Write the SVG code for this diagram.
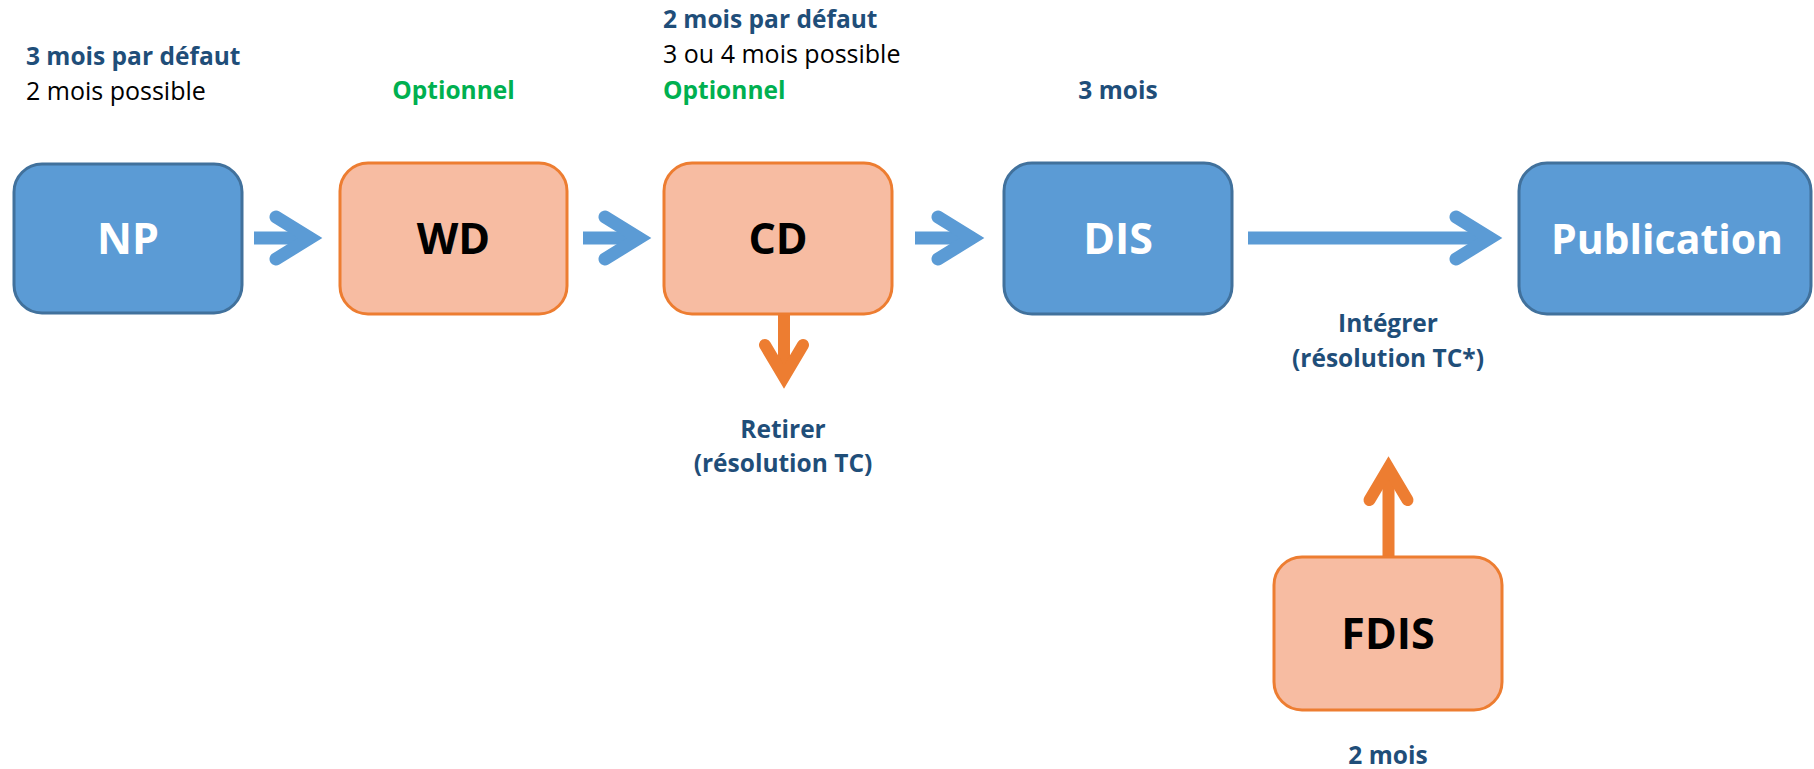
<svg xmlns="http://www.w3.org/2000/svg" width="1814" height="769" viewBox="0 0 1814 769">
<style>
.blue{fill:#5B9BD5;stroke:#41719C;stroke-width:3}
.org{fill:#F7BCA2;stroke:#ED7D31;stroke-width:3}
.nt{font-family:"Open Sans","Noto Sans",sans-serif;font-weight:bold;font-size:43px;text-anchor:middle}
.w{fill:#FFFFFF}
.k{fill:#000000}
.lb{font-family:"Open Sans","Noto Sans",sans-serif;font-weight:bold;font-size:24.5px;fill:#1F4E79}
.lr{font-family:"Open Sans","Noto Sans",sans-serif;font-size:25px;fill:#000000}
.lg{font-family:"Open Sans","Noto Sans",sans-serif;font-weight:bold;font-size:24.5px;fill:#00B050}
.mid{text-anchor:middle}
.sb{stroke:#5B9BD5;stroke-width:13;fill:none}
.so{stroke:#ED7D31;stroke-width:12;fill:none}
.chev{stroke-linecap:round;stroke-linejoin:miter;stroke-miterlimit:6}
</style>
<rect width="1814" height="769" fill="#FFFFFF"/>
<g id="connectors">
<line class="sb" x1="254" y1="238" x2="311" y2="238"/>
<polyline class="sb chev" points="276,217 310,238 276,259"/>
<line class="sb" x1="583" y1="238" x2="640" y2="238"/>
<polyline class="sb chev" points="605,217 639,238 605,259"/>
<line class="sb" x1="915" y1="238" x2="973" y2="238"/>
<polyline class="sb chev" points="938,217 972,238 938,259"/>
<line class="sb" x1="1248" y1="238" x2="1491" y2="238"/>
<polyline class="sb chev" points="1456,217 1490,238 1456,259"/>
<line class="so" x1="784" y1="314" x2="784" y2="377"/>
<polyline class="so chev" points="765,345 784,377 803,345"/>
<line class="so" x1="1388.5" y1="558" x2="1388.5" y2="468"/>
<polyline class="so chev" points="1369.5,500 1388.5,468 1407.5,500"/>
</g>
<g id="node-np">
<rect class="blue" x="14" y="164" width="228" height="149" rx="28"/>
<text class="nt w" x="128" y="254">NP</text>
</g>
<g id="node-wd">
<rect class="org" x="340" y="163" width="227" height="151" rx="28"/>
<text class="nt k" x="453.5" y="254">WD</text>
</g>
<g id="node-cd">
<rect class="org" x="664" y="163" width="228" height="151" rx="28"/>
<text class="nt k" x="778" y="254">CD</text>
</g>
<g id="node-dis">
<rect class="blue" x="1004" y="163" width="228" height="151" rx="28"/>
<text class="nt w" x="1118" y="254">DIS</text>
</g>
<g id="node-publication">
<rect class="blue" x="1519" y="163" width="292" height="151" rx="28"/>
<text class="nt w" x="1667" y="254" style="font-size:41px">Publication</text>
</g>
<g id="node-fdis">
<rect class="org" x="1274" y="557" width="228" height="153" rx="28"/>
<text class="nt k" x="1388" y="649">FDIS</text>
</g>
<g id="labels">
<text class="lb" x="26" y="65">3 mois par défaut</text>
<text class="lr" x="26" y="100">2 mois possible</text>
<text class="lg mid" x="453.5" y="99">Optionnel</text>
<text class="lb" x="663" y="28">2 mois par défaut</text>
<text class="lr" x="663" y="63">3 ou 4 mois possible</text>
<text class="lg" x="663" y="99">Optionnel</text>
<text class="lb mid" x="1118" y="99">3 mois</text>
<text class="lb mid" x="1388" y="332">Intégrer</text>
<text class="lb mid" x="1388" y="367">(résolution TC*)</text>
<text class="lb mid" x="783" y="438">Retirer</text>
<text class="lb mid" x="783" y="472">(résolution TC)</text>
<text class="lb mid" x="1388" y="764">2 mois</text>
</g>
</svg>
